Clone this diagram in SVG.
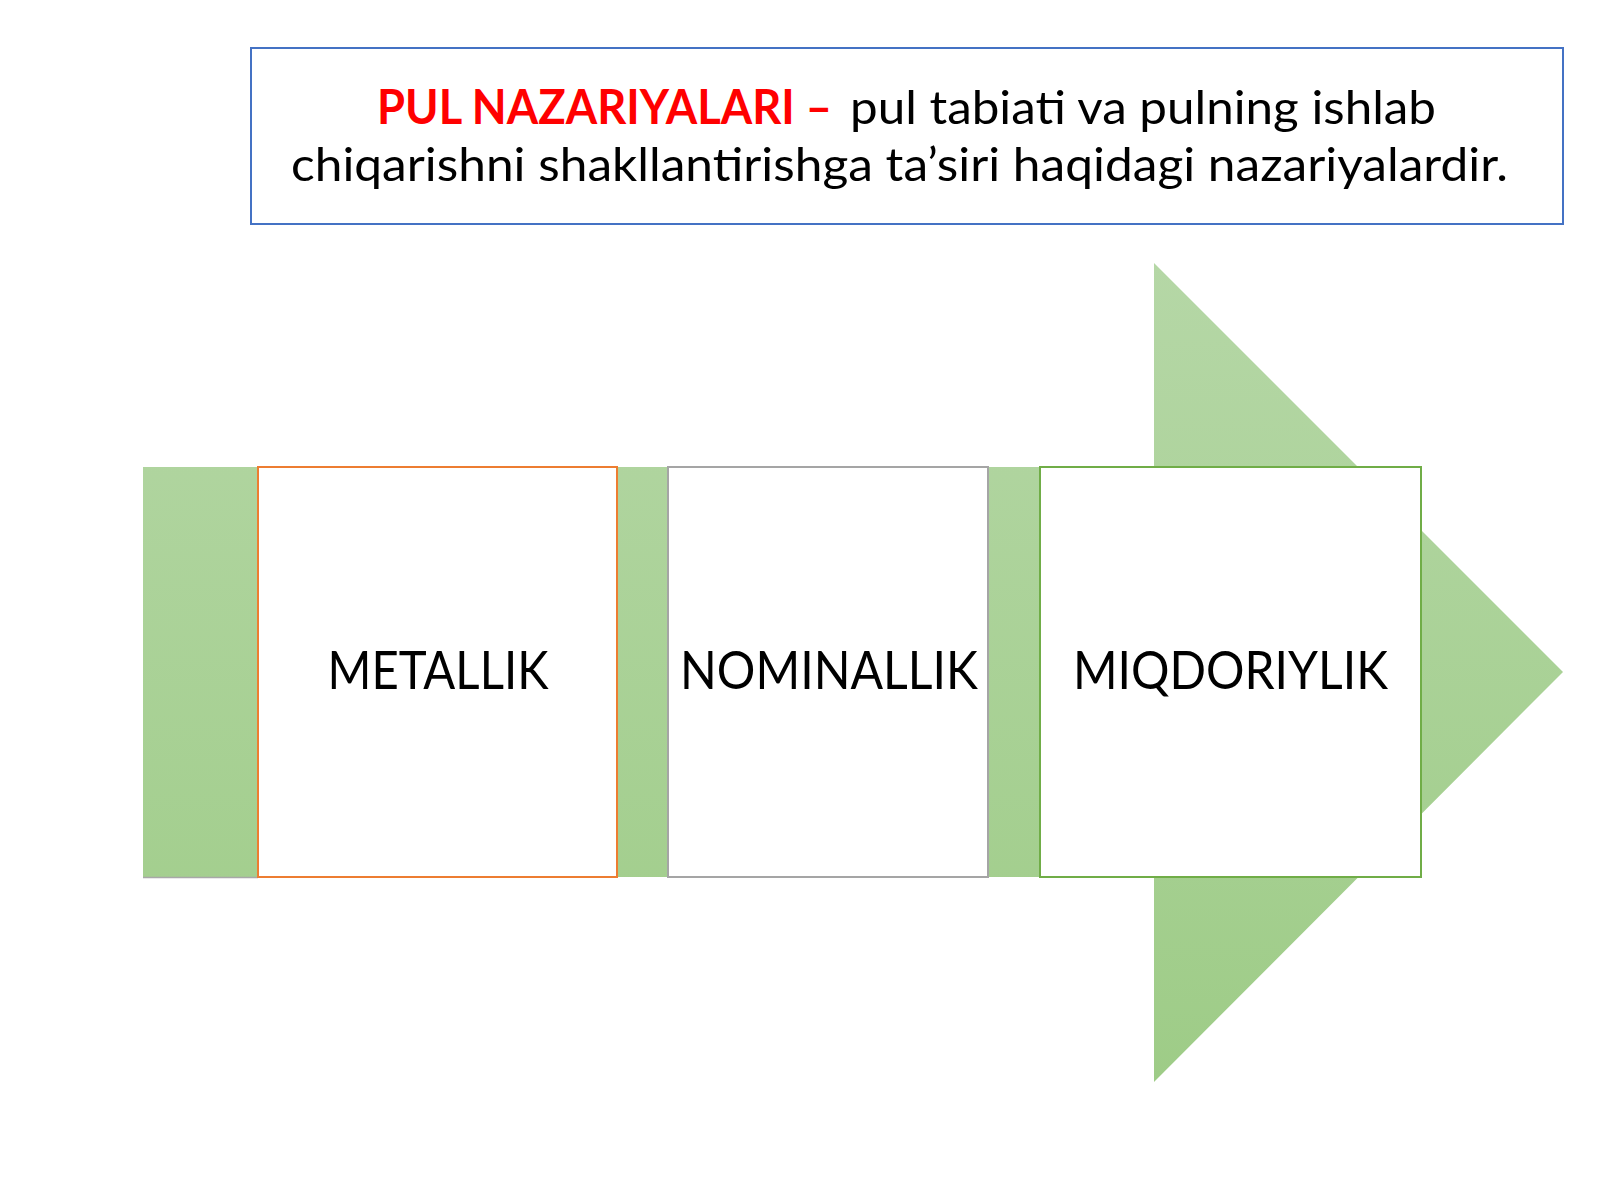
<svg xmlns="http://www.w3.org/2000/svg" width="1600" height="1200" viewBox="0 0 1600 1200">
  <defs>
    <linearGradient id="greenGrad" x1="0" y1="0" x2="0" y2="1">
      <stop offset="0" stop-color="#b5d7a6"/>
      <stop offset="1" stop-color="#9ecc87"/>
    </linearGradient>
    <style>
      .title { font-family: Lato, "Liberation Sans", sans-serif; font-size: 47px; fill: #000000; }
      .red { fill: #ff0000; font-weight: bold; }
      .box { fill: #ffffff; stroke-width: 2; }
      .label { font-family: Lato, "Liberation Sans", sans-serif; font-size: 52px; fill: #000000; text-anchor: middle; }
    </style>
  </defs>
  <rect x="0" y="0" width="1600" height="1200" fill="#ffffff"/>

  <g id="title">
    <rect x="251" y="48" width="1312" height="176" fill="#ffffff" stroke="#4472c4" stroke-width="2"/>
    <text class="title" y="124"><tspan class="red" x="377" textLength="455" lengthAdjust="spacingAndGlyphs">PUL NAZARIYALARI –</tspan><tspan x="850" textLength="586" lengthAdjust="spacingAndGlyphs">pul tabiati va pulning ishlab</tspan></text>
    <text class="title" x="291" y="181" textLength="1217" lengthAdjust="spacingAndGlyphs">chiqarishni shakllantirishga ta’siri haqidagi nazariyalardir.</text>
  </g>

  <g id="arrow">
    <polygon points="143,467 1154,467 1154,263 1563,672 1154,1082 1154,877 143,877" fill="url(#greenGrad)"/>
    <line x1="143" y1="877.5" x2="258" y2="877.5" stroke="#a8a8a8" stroke-width="1.5"/>
  </g>

  <g id="connectors"></g>

  <g id="node-metallik">
    <rect class="box" x="258" y="467" width="359" height="410" stroke="#ed7d31"/>
    <text class="label" x="438" y="689" textLength="221" lengthAdjust="spacingAndGlyphs">METALLIK</text>
  </g>

  <g id="node-nominallik">
    <rect class="box" x="668" y="467" width="320" height="410" stroke="#a5a5a5"/>
    <text class="label" x="829" y="689" textLength="298" lengthAdjust="spacingAndGlyphs">NOMINALLIK</text>
  </g>

  <g id="node-miqdoriylik">
    <rect class="box" x="1040" y="467" width="381" height="410" stroke="#70ad47"/>
    <text class="label" x="1230.5" y="689" textLength="315" lengthAdjust="spacingAndGlyphs">MIQDORIYLIK</text>
  </g>
</svg>
